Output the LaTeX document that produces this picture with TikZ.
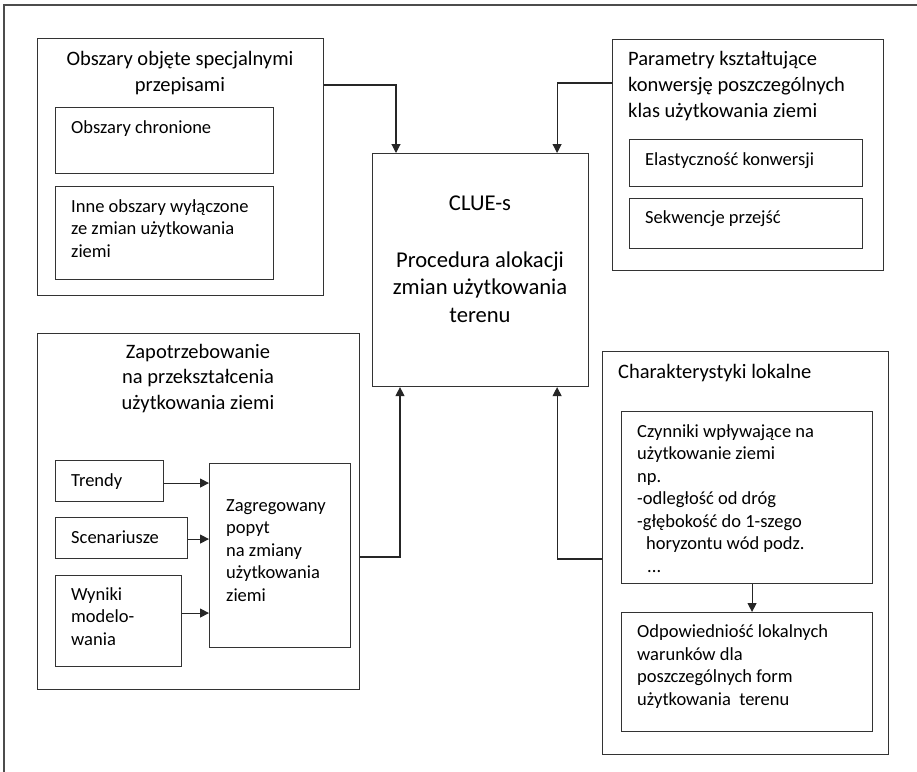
\documentclass[tikz,border=0pt]{standalone}
\usepackage{fontspec}
\setmainfont{Carlito}
\usetikzlibrary{positioning, arrows.meta, calc}

\begin{document}
\begin{tikzpicture}[x=1pt, y=-1pt,
    box/.style={draw=black!80, line width=1.1pt, anchor=north west, inner sep=0pt},
    txt/.style={anchor=base west, inner sep=0pt, align=left, font=\fontsize{18.5}{22.5}\selectfont},
    head/.style={anchor=base, inner sep=0pt, align=center, font=\fontsize{20.5}{26}\selectfont},
    link/.style={draw=black!85, line width=1.1pt, -{Triangle[length=9pt,width=9pt]}}]

    \useasboundingbox (0,0) rectangle (917,771);

    % Frame
    \draw[black!70, line width=2pt] (4,790) -- (4,5) -- (930,5);

    % Obszary objete specjalnymi przepisami (text nodes sit on their last baseline)
    \node[box, minimum width=286pt, minimum height=257pt] (obszary) at (37,38) {};
    \node[head] (obszaryT) at (180,91) {Obszary objęte specjalnymi\\przepisami};
    \node[box, minimum width=218pt, minimum height=66pt] (chronione) at (55,107) {};
    \node[txt] at (71,133) {Obszary chronione};
    \node[box, minimum width=218pt, minimum height=93pt] (wylaczone) at (55,186) {};
    \node[txt] at (71,257) {Inne obszary wyłączone\\ze zmian użytkowania\\ziemi};

    % Parametry
    \node[box, minimum width=271pt, minimum height=231pt] (parametry) at (612,39) {};
    \node[head, anchor=base west, align=left] (parametryT) at (628,117) {Parametry kształtujące\\konwersję poszczególnych\\klas użytkowania ziemi};
    \node[box, minimum width=233pt, minimum height=47pt] (elastycznosc) at (629,139) {};
    \node[txt] at (645,165) {Elastyczność konwersji};
    \node[box, minimum width=233pt, minimum height=50pt] (sekwencje) at (629,198) {};
    \node[txt] at (645,223) {Sekwencje przejść};

    % CLUE-s
    \node[box, minimum width=216pt, minimum height=233pt] (clue) at (372,153) {};
    \node[anchor=base, inner sep=0pt, align=center, font=\fontsize{22.6}{27.5}\selectfont] (clueT) at (480,322)
        {CLUE-s\\[29.5pt]Procedura alokacji\\zmian użytkowania\\terenu};

    % Zapotrzebowanie
    \node[box, minimum width=322pt, minimum height=356pt] (zapotrz) at (37,333) {};
    \node[head, font=\fontsize{20.5}{25.5}\selectfont] (zapotrzT) at (198,409) {Zapotrzebowanie\\na przekształcenia\\użytkowania ziemi};
    \node[box, minimum width=108pt, minimum height=41pt] (trendy) at (55,460) {};
    \node[txt] at (71,486) {Trendy};
    \node[box, minimum width=132pt, minimum height=41pt] (scenariusze) at (55,517) {};
    \node[txt] at (71,543) {Scenariusze};
    \node[box, minimum width=126pt, minimum height=91pt] (wyniki) at (55,575) {};
    \node[txt] at (71,645) {Wyniki\\modelo-\\wania};
    \node[box, minimum width=141pt, minimum height=184pt] (zagreg) at (209,463) {};
    \node[txt] at (226,601) {Zagregowany\\popyt\\na zmiany\\użytkowania\\ziemi};

    % Charakterystyki lokalne
    \node[box, minimum width=286pt, minimum height=403pt] (lokalne) at (602,351) {};
    \node[head, anchor=base west, align=left] (lokalneT) at (618,378) {Charakterystyki lokalne};
    \node[box, minimum width=251pt, minimum height=172pt] (czynniki) at (621,411) {};
    \node[txt] at (637,572) {Czynniki wpływające na\\użytkowanie ziemi\\np.\\-odległość od dróg\\-głębokość do 1-szego\\\hspace{9pt}horyzontu wód podz.\\\hspace{10pt}...};
    \node[box, minimum width=251pt, minimum height=119pt] (odpow) at (621,612) {};
    \node[txt] at (637,705) {Odpowiedniość lokalnych\\warunków dla\\poszczególnych form\\użytkowania\ \ terenu};

    % Connectors
    \draw[link] ([yshift=-47pt]obszary.north east) -| ([xshift=24pt]clue.north west);
    \draw[link] ([yshift=-44pt]parametry.north west) -| ([xshift=-32pt]clue.north east);
    \draw[link] ([yshift=-224pt]zapotrz.north east) -| ([xshift=28pt]clue.south west);
    \draw[link] ([yshift=-208pt]lokalne.north west) -| ([xshift=-32pt]clue.south east);
    \draw[link] ([yshift=-2pt]trendy.east) -- ([yshift=-2pt]trendy.east -| zagreg.west);
    \draw[link] ([yshift=-1pt]scenariusze.east) -- ([yshift=-1pt]scenariusze.east -| zagreg.west);
    \draw[link] ([yshift=8pt]wyniki.east) -- ([yshift=8pt]wyniki.east -| zagreg.west);
    \draw[link] ([xshift=5pt]czynniki.south) -- ([xshift=5pt]czynniki.south |- odpow.north);
\end{tikzpicture}
\end{document}
